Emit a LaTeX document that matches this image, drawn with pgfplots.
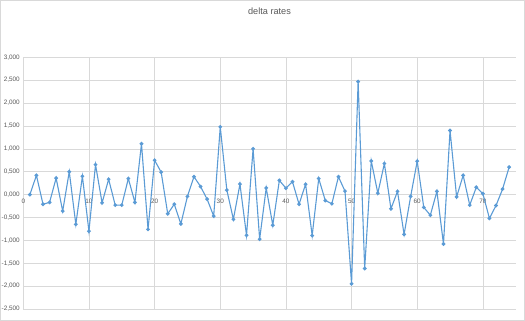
\documentclass[border=0pt]{standalone}
\usepackage{pgfplots}
\pgfplotsset{compat=1.18}
\usepackage{fontspec}
\setmainfont{Liberation Sans}
\definecolor{ln}{HTML}{5B9BD5}
\definecolor{gr}{HTML}{D9D9D9}
\definecolor{tx}{HTML}{595959}
\begin{document}
\begin{tikzpicture}
\useasboundingbox (0,0) rectangle (525bp,321bp);
\draw[gr, line width=0.8bp] (0.5bp,0.5bp) rectangle (524.5bp,320.5bp);
\begin{axis}[at={(23.3bp,12bp)}, anchor=south west, scale only axis,
  width=492.4bp, height=251.7bp,
  xmin=0, xmax=75, ymin=-2.5, ymax=3,
  axis x line=middle, axis y line=left,
  axis line style={-, gr, line width=0.8bp},
  xtick={0,10,...,70}, ytick={-2.5,-2,...,3},
  hide obscured x ticks=false,
  grid=major, grid style={gr, line width=0.6bp},
  major tick length=0,
  /pgf/number format/assume math mode=true,
  tick label style={font=\fontsize{6.4}{7}\selectfont, text=tx},
  yticklabel style={/pgf/number format/.cd, fixed, fixed zerofill, precision=3, use comma},
  xticklabel style={yshift=-1bp},
  title={delta rates},
  title style={at={(0.5,1.179)}, anchor=center, yshift=-4.5bp, font=\fontsize{9.2}{11}\selectfont, text=tx},
]
\addplot[ln, line width=1.1bp, mark=*, mark size=1.3bp, mark options={fill=ln, draw=ln}] table {
x y
1 0.00
2 0.42
3 -0.21
4 -0.17
5 0.36
6 -0.36
7 0.50
8 -0.65
9 0.40
10 -0.80
11 0.655
12 -0.18
13 0.335
14 -0.23
15 -0.23
16 0.35
17 -0.17
18 1.11
19 -0.76
20 0.75
21 0.49
22 -0.42
23 -0.21
24 -0.64
25 -0.04
26 0.39
27 0.175
28 -0.10
29 -0.47
30 1.48
31 0.10
32 -0.54
33 0.23
34 -0.89
35 1.00
36 -0.975
37 0.145
38 -0.67
39 0.31
40 0.14
41 0.28
42 -0.21
43 0.225
44 -0.895
45 0.35
46 -0.13
47 -0.20
48 0.39
49 0.075
50 -1.95
51 2.47
52 -1.615
53 0.735
54 0.03
55 0.68
56 -0.31
57 0.07
58 -0.87
59 -0.04
60 0.73
61 -0.28
62 -0.45
63 0.07
64 -1.08
65 1.40
66 -0.05
67 0.42
68 -0.23
69 0.16
70 0.02
71 -0.52
72 -0.24
73 0.12
74 0.60
};
\end{axis}
\end{tikzpicture}
\end{document}
